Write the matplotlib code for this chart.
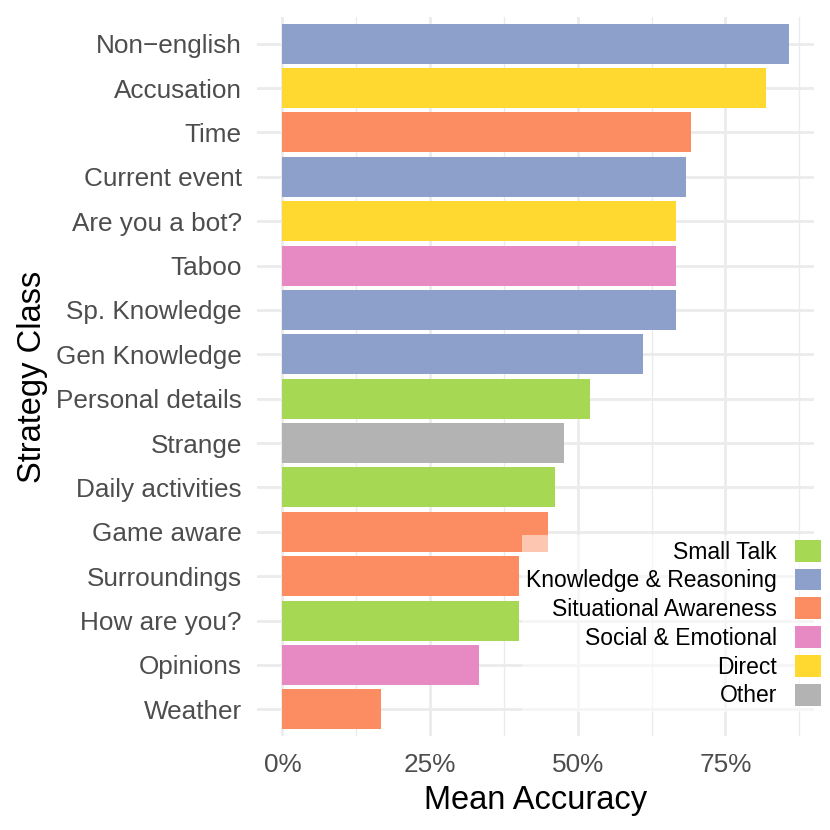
import matplotlib.pyplot as plt
from matplotlib.patches import Patch
from matplotlib.ticker import MultipleLocator, FuncFormatter

plt.rcParams['font.family'] = ['Liberation Sans', 'DejaVu Sans']

# data, top to bottom as drawn
strategies = ["Non\u2212english", "Accusation", "Time", "Current event",
              "Are you a bot?", "Taboo", "Sp. Knowledge", "Gen Knowledge",
              "Personal details", "Strange", "Daily activities", "Game aware",
              "Surroundings", "How are you?", "Opinions", "Weather"]
accuracy = [0.857, 0.818, 0.692, 0.684, 0.667, 0.667, 0.667, 0.611,
            0.52, 0.476, 0.462, 0.45, 0.40, 0.40, 0.333, 0.167]
category = ["Knowledge & Reasoning", "Direct", "Situational Awareness",
            "Knowledge & Reasoning", "Direct", "Social & Emotional",
            "Knowledge & Reasoning", "Knowledge & Reasoning", "Small Talk",
            "Other", "Small Talk", "Situational Awareness",
            "Situational Awareness", "Small Talk", "Social & Emotional",
            "Situational Awareness"]

legend_order = ["Small Talk", "Knowledge & Reasoning", "Situational Awareness",
                "Social & Emotional", "Direct", "Other"]
palette = {"Small Talk": "#A6D854", "Knowledge & Reasoning": "#8DA0CB",
           "Situational Awareness": "#FC8D62", "Social & Emotional": "#E78AC3",
           "Direct": "#FFD92F", "Other": "#B3B3B3"}

fig = plt.figure(figsize=(8.3, 8.3), dpi=100)
ax = fig.add_axes([257 / 830, 1 - 736 / 830, 557 / 830, 719 / 830])

n = len(strategies)
ypos = [n - 1 - i for i in range(n)]
ax.barh(ypos, accuracy, height=0.9, color=[palette[c] for c in category],
        zorder=2)

xmax = max(accuracy)
ax.set_xlim(-0.05 * xmax, 1.05 * xmax)
ax.set_ylim(-0.6, n - 1 + 0.6)

ax.xaxis.set_major_locator(MultipleLocator(0.25))
ax.xaxis.set_minor_locator(MultipleLocator(0.125))
ax.xaxis.set_major_formatter(FuncFormatter(lambda v, p: f"{v * 100:.0f}%"))
ax.set_yticks(ypos)
ax.set_yticklabels(strategies)

ax.grid(True, which='major', color='#EBEBEB', linewidth=2.0, zorder=0)
ax.grid(True, which='minor', axis='x', color='#EBEBEB', linewidth=1.0, zorder=0)
ax.set_axisbelow(True)
for s in ax.spines.values():
    s.set_visible(False)
ax.tick_params(which='both', length=0, labelsize=18.8, colors='#4D4D4D')
ax.tick_params(axis='y', pad=11)
ax.tick_params(axis='x', pad=12)

ax.set_xlabel("Mean Accuracy", fontsize=23.5, color='black', labelpad=6)
ax.set_ylabel("Strategy Class", fontsize=23.5, color='black', labelpad=6)

handles = [Patch(facecolor=palette[c], edgecolor='none') for c in legend_order]
leg = fig.legend(handles, legend_order, loc='lower right',
                 bbox_to_anchor=(826 / 830, 1 - 712 / 830),
                 bbox_transform=fig.transFigure, markerfirst=False,
                 fontsize=16.5, handlelength=1.14, handleheight=1.09,
                 handletextpad=0.8, labelspacing=0.22, borderpad=0.2,
                 borderaxespad=0, frameon=True, fancybox=False,
                 facecolor='white', edgecolor='none', framealpha=0.5)

fig.savefig("out.png", dpi=100, facecolor='white')
